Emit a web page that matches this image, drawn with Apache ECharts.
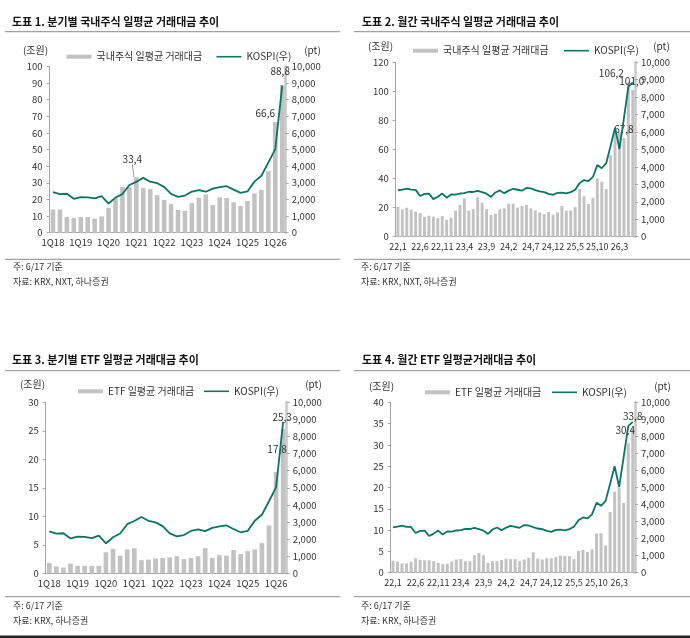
<!DOCTYPE html>
<html>
<head>
<meta charset="utf-8">
<script src="https://cdn.jsdelivr.net/npm/echarts@6/dist/echarts.min.js"></script>
<style>
  html, body { margin: 0; padding: 0; background: #fff; }
  #chart { width: 690px; height: 638px; }
</style>
</head>
<body>
<div id="chart"></div>
<script>
// 분기 / 월 카테고리
const quarters = ['1Q18','2Q18','3Q18','4Q18','1Q19','2Q19','3Q19','4Q19','1Q20','2Q20','3Q20','4Q20',
  '1Q21','2Q21','3Q21','4Q21','1Q22','2Q22','3Q22','4Q22','1Q23','2Q23','3Q23','4Q23',
  '1Q24','2Q24','3Q24','4Q24','1Q25','2Q25','3Q25','4Q25','1Q26','2Q26']
const months = ['22,1','22,2','22,3','22,4','22,5','22,6','22,7','22,8','22,9','22,10','22,11','22,12',
  '23,1','23,2','23,3','23,4','23,5','23,6','23,7','23,8','23,9','23,10','23,11','23,12',
  '24,1','24,2','24,3','24,4','24,5','24,6','24,7','24,8','24,9','24,10','24,11','24,12',
  '25,1','25,2','25,3','25,4','25,5','25,6','25,7','25,8','25,9','25,10','25,11','25,12',
  '26,1','26,2','26,3','26,4','26,5','26,6']

// KOSPI (pt)
const kospiQ = [2446, 2326, 2343, 2041, 2141, 2131, 2063, 2198, 1755, 2108, 2327, 2873,
  3061, 3297, 3069, 2978, 2757, 2332, 2155, 2236, 2477, 2564, 2465, 2655,
  2747, 2798, 2593, 2399, 2481, 3072, 3425, 4214, 5030, 8850]
const kospiM = [2663, 2699, 2757, 2695, 2685, 2332, 2452, 2472, 2155, 2293, 2473, 2236,
  2425, 2413, 2477, 2501, 2577, 2564, 2632, 2556, 2465, 2277, 2535, 2655,
  2497, 2642, 2747, 2692, 2637, 2798, 2770, 2674, 2593, 2556, 2456, 2399,
  2517, 2532, 2481, 2556, 2697, 3072, 3245, 3186, 3425, 4107, 3926, 4214,
  5220, 6250, 5030, 6800, 8600, 8850]

// 국내주식 일평균 거래대금 (조원)
const stockQ = [14.0, 14.0, 9.4, 9.0, 9.4, 9.4, 8.4, 9.8, 15.0, 20.5, 27.5, 27.4,
  33.4, 27.0, 26.2, 22.6, 19.8, 17.2, 13.7, 13.1, 17.8, 21.1, 23.0, 16.6,
  21.3, 20.9, 18.3, 16.1, 19.1, 23.6, 25.8, 37.0, 66.6, 88.8]
const stockM = [20.6, 18.8, 20.0, 18.6, 17.2, 16.3, 13.5, 14.4, 13.8, 12.8, 14.2, 11.7,
  13.1, 17.9, 21.8, 26.4, 17.9, 19.0, 27.1, 23.4, 19.0, 14.9, 15.8, 18.8,
  19.5, 22.7, 22.7, 20.0, 21.1, 21.8, 19.5, 18.1, 16.7, 15.6, 17.0, 15.1,
  16.7, 21.1, 17.9, 18.1, 20.4, 32.8, 27.8, 22.5, 26.8, 40.1, 37.8, 32.8,
  56.0, 72.0, 72.0, 67.8, 106.2, 101.0]

// ETF 일평균 거래대금 (조원)
const etfQ = [1.8, 1.2, 1.0, 1.7, 1.3, 1.3, 1.3, 1.3, 3.7, 4.3, 3.1, 4.2,
  4.4, 2.3, 2.4, 2.6, 2.7, 2.8, 3.0, 2.5, 2.7, 3.0, 4.4, 2.7,
  3.2, 3.1, 4.1, 3.4, 3.9, 4.2, 5.3, 8.4, 17.8, 25.3]
const etfM = [2.8, 2.6, 2.2, 2.2, 2.6, 3.4, 3.0, 2.9, 2.9, 2.7, 2.3, 2.0,
  2.1, 2.6, 3.1, 3.2, 2.7, 2.7, 4.1, 4.6, 4.1, 2.3, 2.7, 2.7,
  3.0, 3.3, 3.2, 3.2, 2.7, 3.1, 3.5, 4.8, 3.3, 3.1, 3.4, 3.4,
  3.7, 4.0, 3.9, 3.9, 3.2, 5.1, 5.4, 4.9, 5.5, 9.2, 9.3, 6.4,
  14.3, 19.0, 20.0, 16.4, 30.4, 33.8]

const FONT = "'Noto Sans CJK KR', 'Noto Sans', sans-serif"
const TEAL = '#0b7563'
const BAR = '#c2c2c2'
const TXT = '#333'

const fmtDec = v => v.toFixed(1).replace('.', ',')
const fmtPt = v => Number(v).toLocaleString('en-US')

const panels = [
  {
    title: '도표 1. 분기별 국내주식 일평균 거래대금 추이', titleX: 12, titleY: 21.5,
    grid: { left: 49.5, top: 66.5, width: 236.2, height: 166.2 },
    cats: quarters, bars: stockQ, line: kospiQ, yMax: 100, yStep: 10, every: 3, xFont: 9.5,
    barName: '국내주식 일평균 거래대금', legendBar: [66.5, 51.7], legendLine: [216.5, 51.7],
    unitL: [35.5, 50], unitR: [312.5, 50],
    labels: { 12: { dx: -4, dy: -9, line: true }, 32: { dx: -10, dy: 0 }, 33: { dx: -2, dy: -5 } },
    sepX: [5, 340], sepTop: 31.7, sepBot: 259.3, noteX: 13, noteY: [267, 282],
    notes: ['주: 6/17 기준', '자료: KRX, NXT, 하나증권']
  },
  {
    title: '도표 2. 월간 국내주식 일평균 거래대금 추이', titleX: 362, titleY: 21.5,
    grid: { left: 395.7, top: 62.3, width: 239.3, height: 174.4 },
    cats: months, bars: stockM, line: kospiM, yMax: 120, yStep: 20, every: 4, xFont: 9,
    barName: '국내주식 일평균 거래대금', legendBar: [413, 45.7], legendLine: [564, 45.7],
    unitL: [380.5, 46], unitR: [661.5, 46],
    labels: { 51: { dx: 0, dy: 0 }, 52: { dx: -17, dy: 0 }, 53: { dx: -1, dy: 0 } },
    sepX: [354, 690], sepTop: 31.7, sepBot: 259.3, noteX: 361, noteY: [267, 282],
    notes: ['주: 6/17 기준', '자료: KRX, NXT, 하나증권']
  },
  {
    title: '도표 3. 분기별 ETF 일평균 거래대금 추이', titleX: 12, titleY: 360,
    grid: { left: 45.7, top: 402.3, width: 241, height: 171 },
    cats: quarters, bars: etfQ, line: kospiQ, yMax: 30, yStep: 5, every: 3, xFont: 9.5,
    barName: 'ETF 일평균 거래대금', legendBar: [78, 386.3], legendLine: [204, 386.3],
    unitL: [32.5, 384.3], unitR: [313.5, 384.3],
    labels: { 32: { dx: 1, dy: -14 }, 33: { dx: -1, dy: -3 } },
    sepX: [5, 340], sepTop: 370.7, sepBot: 596.7, noteX: 13, noteY: [605.7, 621],
    notes: ['주: 6/17 기준', '자료: KRX, 하나증권']
  },
  {
    title: '도표 4. 월간 ETF 일평균거래대금 추이', titleX: 362, titleY: 359.5,
    grid: { left: 390.7, top: 402.3, width: 244.3, height: 170.4 },
    cats: months, bars: etfM, line: kospiM, yMax: 40, yStep: 5, every: 4, xFont: 9,
    barName: 'ETF 일평균 거래대금', legendBar: [425, 387.3], legendLine: [552, 387.3],
    unitL: [381.5, 386.5], unitR: [662.5, 386.5],
    labels: { 52: { dx: -3, dy: -4 }, 53: { dx: 0, dy: -4 } },
    sepX: [354, 690], sepTop: 370.7, sepBot: 596.7, noteX: 361, noteY: [605.7, 621],
    notes: ['주: 6/17 기준', '자료: KRX, 하나증권']
  }
]

const grid = [], xAxis = [], yAxis = [], series = [], legend = [], graphic = []

const txt = (x, y, text, style) => ({
  type: 'text', x, y, silent: true,
  style: Object.assign({ text, fill: TXT, font: '10px ' + FONT, verticalAlign: 'middle' }, style)
})
const hline = (x1, x2, y, color, width) => ({
  type: 'line', silent: true,
  shape: { x1, y1: y, x2, y2: y }, style: { stroke: color, lineWidth: width }
})
const legendBox = (pos, name, h, color) => ({
  left: pos[0], top: pos[1], padding: 0, itemWidth: 25, itemHeight: h, selectedMode: false,
  textStyle: { color: TXT, fontSize: 10, fontFamily: FONT },
  data: [{ name, icon: 'rect', itemStyle: { color } }]
})

panels.forEach((p, k) => {
  grid.push(Object.assign({ containLabel: false }, p.grid))
  xAxis.push({
    type: 'category', gridIndex: k, data: p.cats,
    axisLine: { lineStyle: { color: '#a6a6a6' } },
    axisTick: { show: false },
    axisLabel: { interval: p.every, color: TXT, fontSize: p.xFont, fontFamily: FONT, margin: 5 }
  })
  yAxis.push({
    type: 'value', gridIndex: k, min: 0, max: p.yMax, interval: p.yStep, position: 'left',
    axisLine: { show: true, lineStyle: { color: '#a6a6a6' } },
    axisTick: { show: true, length: 3, lineStyle: { color: '#a6a6a6' } },
    splitLine: { show: false },
    axisLabel: { color: TXT, fontSize: 9.5, fontFamily: FONT, margin: 7 }
  })
  yAxis.push({
    type: 'value', gridIndex: k, min: 0, max: 10000, interval: 1000, position: 'right',
    axisLine: { show: true, lineStyle: { color: '#c8c8c8', width: 2.5 } },
    axisTick: { show: true, length: 3, lineStyle: { color: '#a6a6a6' } },
    splitLine: { show: false },
    axisLabel: { color: TXT, fontSize: 9.5, fontFamily: FONT, margin: 6, formatter: fmtPt }
  })

  const barData = p.bars.map((v, i) => {
    const l = p.labels[i]
    if (!l) return v
    const item = { value: v, label: { show: true } }
    if (l.line) item.labelLine = { show: true, lineStyle: { color: '#999', width: 1 } }
    return item
  })
  series.push({
    name: p.barName, type: 'bar', xAxisIndex: k, yAxisIndex: k * 2,
    data: barData, barWidth: '66%',
    itemStyle: { color: BAR },
    label: { show: false, position: 'top', distance: 4, color: TXT, fontSize: 10, fontFamily: FONT,
      formatter: (q) => fmtDec(q.value) },
    labelLayout: (q) => {
      const l = p.labels[q.dataIndex]
      return l ? { dx: l.dx, dy: l.dy } : {}
    },
    z: 2
  })
  series.push({
    name: 'KOSPI(우)', type: 'line', xAxisIndex: k, yAxisIndex: k * 2 + 1,
    data: p.line, symbol: 'none', smooth: false,
    lineStyle: { color: TEAL, width: 1.8 }, itemStyle: { color: TEAL },
    z: 3
  })
  legend.push(legendBox(p.legendBar, p.barName, 4, BAR))
  legend.push(legendBox(p.legendLine, 'KOSPI(우)', 1.6, TEAL))

  graphic.push(txt(p.titleX, p.titleY, p.title, { font: 'bold 11px ' + FONT, fill: '#111' }))
  graphic.push(hline(p.sepX[0], p.sepX[1], p.sepTop, '#8c8c8c', 1))
  graphic.push(hline(p.sepX[0], p.sepX[1], p.sepBot, '#8c8c8c', 1))
  graphic.push(txt(p.unitL[0], p.unitL[1], '(조원)', { align: 'center' }))
  graphic.push(txt(p.unitR[0], p.unitR[1], '(pt)', { align: 'center' }))
  graphic.push(txt(p.noteX, p.noteY[0], p.notes[0], { font: '9px ' + FONT }))
  graphic.push(txt(p.noteX, p.noteY[1], p.notes[1], { font: '9px ' + FONT }))
})

graphic.push({ type: 'rect', silent: true, shape: { x: 0, y: 635.5, width: 690, height: 2.5 }, style: { fill: '#222' } })

const chart = echarts.init(document.getElementById('chart'))
chart.setOption({
  animation: false,
  textStyle: { fontFamily: FONT },
  grid, xAxis, yAxis, series, legend, graphic
})
</script>
</body>
</html>
